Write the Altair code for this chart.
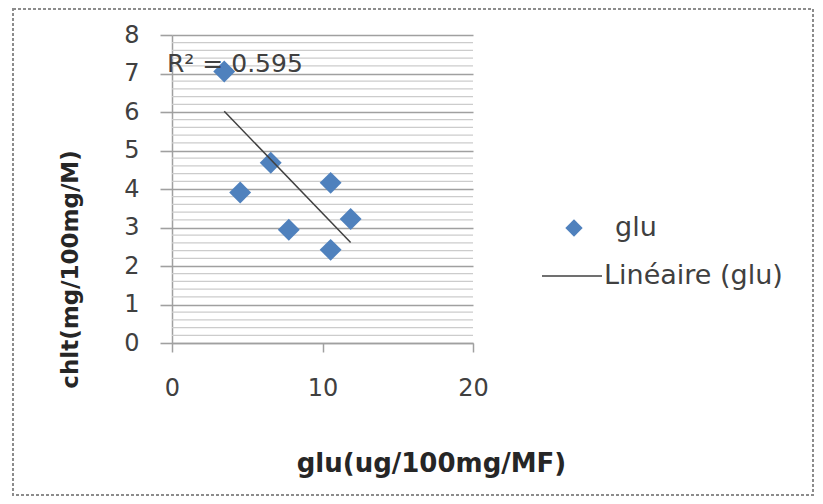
import altair as alt
import pandas as pd

# ---- data ----
glu = [3.47, 4.53, 6.56, 7.76, 10.54, 10.54, 11.87]
chlt = [7.05, 3.91, 4.68, 2.94, 4.16, 2.42, 3.22]
trend_glu = [3.47, 11.87]
trend_chlt = [6.02, 2.61]
y_major = [0, 1, 2, 3, 4, 5, 6, 7, 8]
x_ticks = [0, 10, 20]
y_minor = [round(i * 0.2, 1) for i in range(41) if i % 5]
legend_labels = ["glu", "Linéaire (glu)"]
r2_label = "R² = 0.595"
x_title = "glu(ug/100mg/MF)"
y_title = "chlt(mg/100mg/M)"

FONT = "DejaVu Sans"
BLUE = "#4F81BD"
GRID = "#a0a0a0"
MINOR = "#cccccc"
TXT = "#404040"

W, H = 301, 308
L, T = 164, 27
R = 807 - L - W
B = 488 - T - H

pts = pd.DataFrame({"glu": glu, "chlt": chlt})
trend = pd.DataFrame({"glu": trend_glu, "chlt": trend_chlt})
minor = pd.DataFrame({"chlt": y_minor})
one = pd.DataFrame({"k": [0]})

xs = alt.Scale(domain=[0, 20], nice=False, zero=True)
ys = alt.Scale(domain=[0, 8], nice=False, zero=True)

xaxis = alt.Axis(
    values=x_ticks, grid=False, domain=True, domainColor=GRID, domainWidth=1.5,
    ticks=True, tickSize=9, tickColor=GRID, tickWidth=1.5,
    labelFont=FONT, labelFontSize=24, labelColor=TXT, labelPadding=24,
    labelFlush=False,
    title=x_title, titleFont=FONT, titleFontSize=26, titleFontWeight="bold",
    titleColor="#262626", titleX=259, titleY=120, titleAlign="center",
    titleBaseline="middle", titleAnchor="middle",
)
yaxis = alt.Axis(
    values=y_major, grid=True, gridColor=GRID, gridWidth=1.6,
    domain=True, domainColor=GRID, domainWidth=1.5,
    ticks=True, tickSize=12, tickColor=GRID, tickWidth=1.6,
    labelFont=FONT, labelFontSize=24, labelColor=TXT, labelPadding=21,
    labelFlush=False,
    title=y_title, titleFont=FONT, titleFontSize=23, titleFontWeight="bold",
    titleColor="#262626", titleAngle=270, titleX=-102, titleY=234,
    titleAlign="center", titleBaseline="middle", titleAnchor="middle",
)

X = alt.X("glu:Q", scale=xs, axis=xaxis)
Y = alt.Y("chlt:Q", scale=ys, axis=yaxis)

frame = alt.Chart(one).mark_rect(
    fill="transparent", stroke="#8c8c8c", strokeWidth=2, strokeDash=[3, 2]
).encode(
    x=alt.value(-L + 5), x2=alt.value(W + R - 2),
    y=alt.value(-T + 1), y2=alt.value(H + B - 1),
)

minor_rules = alt.Chart(minor).mark_rule(color=MINOR, strokeWidth=1.3).encode(y=Y)

points = alt.Chart(pts).mark_point(
    shape="diamond", filled=True, size=480, color=BLUE, opacity=1
).encode(x=X, y=Y)

line = alt.Chart(trend).mark_line(color="#404040", strokeWidth=1.5).encode(x=X, y=Y)

r2 = alt.Chart(one).mark_text(
    text=r2_label, font=FONT, fontSize=25, color=TXT, align="left", baseline="middle"
).encode(x=alt.value(-5), y=alt.value(29))

leg_sym = alt.Chart(one).mark_point(
    shape="diamond", filled=True, size=300, color=BLUE, opacity=1
).encode(x=alt.value(402), y=alt.value(193))
leg_t1 = alt.Chart(one).mark_text(
    text=legend_labels[0], font=FONT, fontSize=27, color=TXT, align="left", baseline="middle"
).encode(x=alt.value(443), y=alt.value(193))
leg_line = alt.Chart(one).mark_rule(color="#404040", strokeWidth=1.5).encode(
    x=alt.value(370), x2=alt.value(430), y=alt.value(241)
)
leg_t2 = alt.Chart(one).mark_text(
    text=legend_labels[1], font=FONT, fontSize=27, color=TXT, align="left", baseline="middle"
).encode(x=alt.value(432), y=alt.value(241))

chart = alt.layer(
    frame, minor_rules, points, line, r2, leg_sym, leg_t1, leg_line, leg_t2
).properties(
    width=W, height=H,
    autosize=alt.AutoSizeParams(type="none"),
    padding={"left": L, "top": T, "right": R, "bottom": B},
).configure_view(stroke=None)

chart.save("out.html", embed_options={"renderer": "svg", "actions": False})
